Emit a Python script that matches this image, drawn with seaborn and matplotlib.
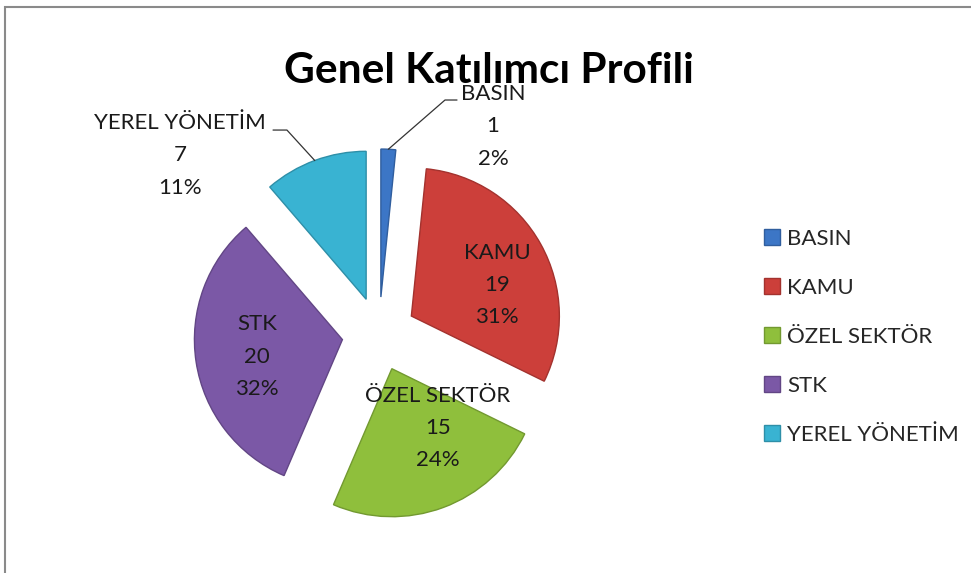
import numpy as np
import matplotlib
matplotlib.use("Agg")
import matplotlib.pyplot as plt
import seaborn as sns
from matplotlib.colors import to_rgb
from matplotlib.patches import Rectangle

# Data
categories = ['BASIN', 'KAMU', 'ÖZEL SEKTÖR', 'STK', 'YEREL YÖNETİM']
counts = [1, 19, 15, 20, 7]
colors = ['#3C76C6', '#CC3F3A', '#8FBF3C', '#7B58A6', '#39B3D2']

sns.set_theme(style="white")
plt.rcParams['font.family'] = ['Lato', 'DejaVu Sans']

fig = plt.figure(figsize=(9.71, 5.73), dpi=100)

# frame around chart area (top and left visible)
fig.patches.append(Rectangle((5 / 971, -0.05), 1.1, 1 - 7 / 573 + 0.05,
                             transform=fig.transFigure, fill=False,
                             edgecolor='#8a8a8a', linewidth=1.5))

# pie axes: centre at (379, 334) px, radius 148 px
half = 250
R = 148
ax = fig.add_axes([(379 - half) / 971, (573 - 334 - half) / 573,
                   2 * half / 971, 2 * half / 573])
lim = half / R
ax.axis('off')

explode = [0.25] * len(counts)
wedges, _ = ax.pie(counts, colors=colors, explode=explode, startangle=90,
                   counterclock=False, radius=1,
                   wedgeprops=dict(linewidth=1.0))
for w, c in zip(wedges, colors):
    w.set_edgecolor(tuple(v * 0.8 for v in to_rgb(c)))
ax.set_xlim(-lim, lim)
ax.set_ylim(-lim, lim)
ax.set_aspect('equal')

total = sum(counts)
label_pos = {
    'BASIN': (0.770, 1.405),
    'KAMU': (0.797, 0.331),
    'ÖZEL SEKTÖR': (0.399, -0.635),
    'STK': (-0.824, -0.155),
    'YEREL YÖNETİM': (-1.345, 1.209),
}
leader_end = {
    'BASIN': [(0.446, 1.581), (0.527, 1.581)],
    'YEREL YÖNETİM': [(-0.622, 1.378), (-0.716, 1.378)],
}

for w, cat, n in zip(wedges, categories, counts):
    pct = round(100 * n / total)
    x, y = label_pos[cat]
    ax.text(x, y, f"{cat}\n{n}\n{pct}%", ha='center', va='center',
            fontsize=16, linespacing=1.78, color='#1a1a1a')
    if cat in leader_end:
        m = np.deg2rad((w.theta1 + w.theta2) / 2)
        cx, cy = w.center
        pts = [(cx + np.cos(m), cy + np.sin(m))] + leader_end[cat]
        xs, ys = zip(*pts)
        ax.plot(xs, ys, color='#333333', linewidth=0.9)

fig.text(489 / 971, 1 - 83 / 573, 'Genel Katılımcı Profili', ha='center',
         va='baseline', fontsize=30.5, fontweight='bold', color='black')

fig.legend(wedges, categories, loc='upper left',
           bbox_to_anchor=(744 / 971, 1 - 209 / 573), frameon=False,
           fontsize=16, handlelength=0.7, handleheight=0.7,
           handletextpad=0.35, labelspacing=1.3)

fig.savefig('out.png', dpi=100)
